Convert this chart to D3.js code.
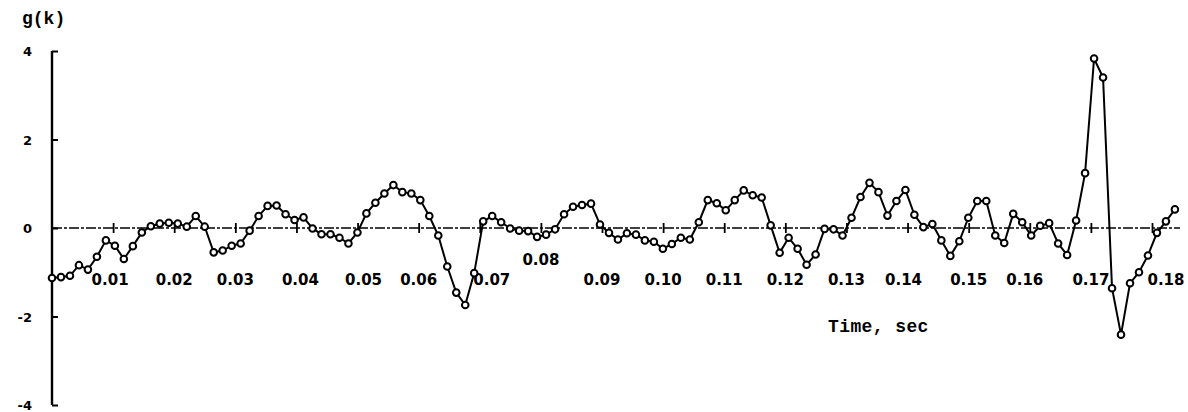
<!DOCTYPE html>
<html>
<head>
<meta charset="utf-8">
<script src="https://cdn.jsdelivr.net/npm/d3@7/dist/d3.min.js"></script>
<style>
  html, body { margin: 0; padding: 0; background: #fff; }
  svg { display: block; }
  text { fill: #000; }
</style>
</head>
<body>
<svg id="chart" width="1188" height="412"></svg>
<script>
// ---- data ----
const sampleInterval = 0.00147; // seconds between samples k
const gValues = [
  -1.13, -1.11, -1.08, -0.84, -0.94, -0.65, -0.28, -0.40, -0.70, -0.41,
  -0.10, 0.04, 0.10, 0.12, 0.10, 0.03, 0.27, 0.03, -0.55, -0.51,
  -0.40, -0.35, -0.06, 0.27, 0.50, 0.51, 0.31, 0.18, 0.24, -0.01,
  -0.14, -0.14, -0.22, -0.35, -0.10, 0.33, 0.57, 0.78, 0.97, 0.81,
  0.78, 0.63, 0.27, -0.17, -0.87, -1.46, -1.74, -1.02, 0.15, 0.27,
  0.13, -0.01, -0.06, -0.07, -0.20, -0.15, -0.03, 0.31, 0.48, 0.52,
  0.55, 0.08, -0.11, -0.26, -0.12, -0.15, -0.28, -0.31, -0.47, -0.36,
  -0.22, -0.26, 0.13, 0.63, 0.56, 0.40, 0.63, 0.85, 0.74, 0.69,
  0.06, -0.56, -0.22, -0.47, -0.83, -0.60, -0.02, -0.03, -0.17, 0.23,
  0.70, 1.02, 0.81, 0.28, 0.61, 0.86, 0.30, 0.02, 0.09, -0.28,
  -0.63, -0.30, 0.23, 0.61, 0.61, -0.17, -0.34, 0.32, 0.13, -0.17,
  0.05, 0.11, -0.35, -0.61, 0.17, 1.24, 3.83, 3.40, -1.36, -2.41,
  -1.25, -1.00, -0.62, -0.11, 0.15, 0.42
];
const xTicks = [0.01, 0.02, 0.03, 0.04, 0.05, 0.06, 0.07, 0.08, 0.09,
                0.10, 0.11, 0.12, 0.13, 0.14, 0.15, 0.16, 0.17, 0.18];
const xTickLabels = ["0.01", "0.02", "0.03", "0.04", "0.05", "0.06", "0.07", "0.08", "0.09",
                     "0.10", "0.11", "0.12", "0.13", "0.14", "0.15", "0.16", "0.17", "0.18"];
const yTicks = [-4, -2, 0, 2, 4];
const yTickLabels = ["-4", "-2", "0", "2", "4"];
const yTitle = "g(k)";
const xTitle = "Time, sec";

const points = gValues.map((v, k) => ({ t: k * sampleInterval, v }));

// ---- layout ----
const svg = d3.select("#chart");
const x = d3.scaleLinear().domain([0, 0.18]).range([52, 1152]);
const y = d3.scaleLinear().domain([-4, 4]).range([405, 51]);

const typeFont = "'Liberation Mono', 'Courier New', monospace";
const labelFont = "'DejaVu Sans', sans-serif";

// y axis
const yAxis = d3.axisRight(y).tickValues(yTicks).tickSize(6).tickFormat("");
const gy = svg.append("g").attr("transform", `translate(${x(0)},0)`).call(yAxis);
gy.select(".domain").attr("stroke", "#000").attr("stroke-width", 2.4).attr("d", `M0,${y(4)}V${y(-4)}`);
gy.selectAll(".tick line").attr("stroke", "#000").attr("stroke-width", 2);
svg.append("g").selectAll("text")
  .data(yTicks)
  .join("text")
  .attr("x", 32)
  .attr("y", d => Math.min(y(d) + 5, 411))
  .attr("text-anchor", "end")
  .style("font-family", labelFont)
  .style("font-weight", "bold")
  .style("font-size", "13px")
  .text((d, i) => yTickLabels[i]);

svg.append("text")
  .attr("x", 22).attr("y", 24)
  .style("font-family", typeFont)
  .style("font-weight", "bold")
  .style("font-size", "18px")
  .text(yTitle);

// zero line (dashed) with time ticks
const x0 = y(0);
svg.append("line")
  .attr("x1", x(0)).attr("x2", 1180)
  .attr("y1", x0).attr("y2", x0)
  .attr("stroke", "#000").attr("stroke-width", 1.5)
  .attr("stroke-dasharray", "10,2,3,2");

const xAxis = d3.axisBottom(x).tickValues(xTicks).tickSize(10).tickFormat("");
const gx = svg.append("g").attr("transform", `translate(0,${x0 - 5})`).call(xAxis);
gx.select(".domain").remove();
gx.selectAll(".tick line").attr("stroke", "#000").attr("stroke-width", 1.8);

// tick labels (a few nudged like the typed originals)
const nudgeX = { "0.07": 12, "0.18": 14, "0.16": -5, "0.14": -4, "0.04": 4, "0.05": 6, "0.01": -3 };
const nudgeY = { "0.08": -20 };
svg.append("g").selectAll("text")
  .data(xTicks)
  .join("text")
  .attr("x", (d, i) => x(d) + (nudgeX[xTickLabels[i]] || 0))
  .attr("y", (d, i) => x0 + 57 + (nudgeY[xTickLabels[i]] || 0))
  .attr("text-anchor", "middle")
  .style("font-family", labelFont)
  .style("font-weight", "bold")
  .style("font-size", "15px")
  .text((d, i) => xTickLabels[i]);

svg.append("text")
  .attr("x", 828).attr("y", 332)
  .style("font-family", typeFont)
  .style("font-weight", "bold")
  .style("font-size", "18px")
  .style("letter-spacing", "0.4px")
  .text(xTitle);

// series
const line = d3.line().x(d => x(d.t)).y(d => y(d.v));
svg.append("path")
  .datum(points)
  .attr("d", line)
  .attr("fill", "none")
  .attr("stroke", "#000")
  .attr("stroke-width", 2);

svg.append("g").selectAll("circle")
  .data(points)
  .join("circle")
  .attr("cx", d => x(d.t))
  .attr("cy", d => y(d.v))
  .attr("r", 3.3)
  .attr("fill", "#fff")
  .attr("stroke", "#000")
  .attr("stroke-width", 2);
</script>
</body>
</html>
